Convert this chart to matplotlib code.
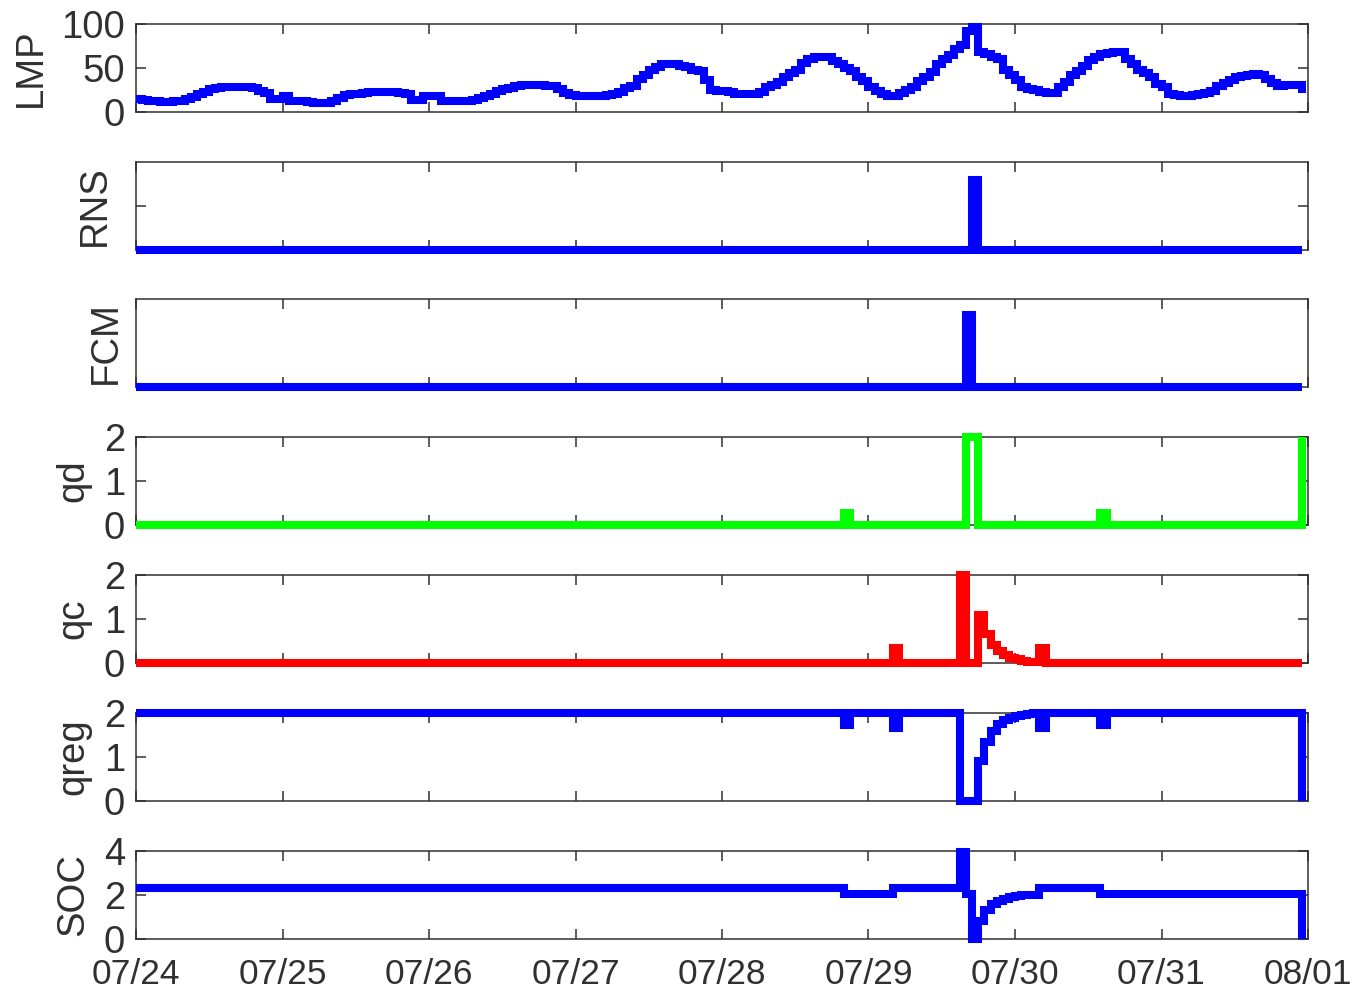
import numpy as np
import matplotlib
matplotlib.use("Agg")
import matplotlib.pyplot as plt

# ---------------- data (hourly, 07/24 00:00 -> 07/31 23:00) ----------------
day_labels = ["07/24", "07/25", "07/26", "07/27", "07/28", "07/29", "07/30", "07/31", "08/01"]

lmp = [
    15, 14, 13, 12, 11, 11, 12, 13, 15, 17, 20, 23, 26, 27, 28, 28, 28, 28, 28, 27, 24, 22, 15, 15,
    18, 13, 12, 12, 11, 10, 10, 10, 13, 16, 19, 20, 21, 22, 23, 23, 23, 23, 23, 22, 20, 14, 14, 18,
    18, 18, 13, 13, 13, 13, 13, 14, 16, 18, 20, 24, 26, 27, 30, 31, 31, 31, 31, 30, 29, 26, 22, 19,
    18, 18, 18, 18, 18, 19, 21, 23, 27, 29, 38, 42, 48, 51, 54, 55, 54, 52, 51, 48, 47, 36, 25, 24,
    24, 23, 21, 20, 20, 21, 23, 28, 31, 34, 40, 44, 48, 56, 60, 63, 63, 62, 58, 54, 50, 47, 40, 35,
    28, 24, 20, 18, 18, 22, 25, 28, 35, 40, 45, 55, 60, 65, 72, 76, 92, 97, 68, 66, 62, 60, 48, 42,
    36, 28, 26, 25, 23, 22, 22, 28, 34, 42, 47, 52, 59, 63, 66, 67, 68, 68, 60, 55, 48, 44, 40, 32,
    28, 20, 19, 18, 18, 19, 20, 22, 24, 30, 33, 36, 40, 41, 42, 43, 42, 38, 33, 30, 31, 31, 31, 22,
]

n_hours = len(lmp)

# sparse series: {hour index: value}, zero elsewhere
rns_events = {137: 1.6}
fcm_events = {136: 0.82}
qd_events = {116: 0.27, 136: 2.0, 137: 2.0, 158: 0.27, 191: 2.0}
qc_events = {124: 0.35, 135: 2.0, 138: 1.1, 139: 0.65, 140: 0.42, 141: 0.28, 142: 0.18,
             143: 0.12, 144: 0.08, 145: 0.05, 146: 0.03, 147: 0.02, 148: 0.35}

qreg_base = 2.0
qreg_events = {116: 1.73, 124: 1.65, 135: 0.0, 136: 0.0, 137: 0.0, 138: 0.92, 139: 1.35,
               140: 1.6, 141: 1.74, 142: 1.83, 143: 1.89, 144: 1.93, 145: 1.96, 146: 1.98,
               148: 1.65, 158: 1.73, 191: 0.0}

# SOC level changes: (start hour, value) held until next change
soc_levels = [(0, 2.3), (116, 2.03), (124, 2.3), (135, 3.95), (136, 2.05), (137, 0.0),
              (138, 0.8), (139, 1.3), (140, 1.58), (141, 1.74), (142, 1.84), (143, 1.9),
              (144, 1.95), (145, 1.98), (148, 2.3), (158, 2.03), (191, 0.0)]


def sparse(events, base=0.0):
    arr = np.full(n_hours, base, dtype=float)
    for k, v in events.items():
        arr[k] = v
    return arr


def held(levels):
    arr = np.zeros(n_hours)
    for i, (start, val) in enumerate(levels):
        end = levels[i + 1][0] if i + 1 < len(levels) else n_hours
        arr[start:end] = val
    return arr


hours = np.arange(n_hours)
series = [
    ("LMP", np.array(lmp, float), "#0000ff", (0, 100), [0, 50, 100], True),
    ("RNS", sparse(rns_events), "#0000ff", (0, 2), [1], False),
    ("FCM", sparse(fcm_events), "#0000ff", (0, 1), [], False),
    ("qd", sparse(qd_events), "#00ff00", (0, 2), [0, 1, 2], True),
    ("qc", sparse(qc_events), "#ff0000", (0, 2), [0, 1, 2], True),
    ("qreg", sparse(qreg_events, qreg_base), "#0000ff", (0, 2), [0, 1, 2], True),
    ("SOC", held(soc_levels), "#0000ff", (0, 4), [0, 2, 4], True),
]

# ---------------- figure ----------------
W, H = 1352, 994
plt.rcParams["font.family"] = ["Liberation Sans", "DejaVu Sans"]
fig = plt.figure(figsize=(W / 100, H / 100), dpi=100)

txt = "#303030"
left_px, right_px = 136, 1308
ax_h = 88
tops = [24, 162, 299, 437, 575, 713, 851]
fs = 27.5
fs_x = 25.5

for i, (name, y, color, ylim, yticks, show_labels) in enumerate(series):
    top = tops[i]
    ax = fig.add_axes([left_px / W, 1 - (top + ax_h) / H, (right_px - left_px) / W, ax_h / H])
    ax.step(hours, y, where="post", color=color, lw=5.8, clip_on=False,
            solid_joinstyle="miter", solid_capstyle="butt", zorder=3)
    ax.set_xlim(0, 192)
    ax.set_ylim(*ylim)
    ax.set_xticks(np.arange(0, 193, 24))
    ax.set_yticks(yticks)
    if show_labels:
        ax.set_yticklabels([str(t) for t in yticks])
    else:
        ax.set_yticklabels([])
    if i == len(series) - 1:
        ax.set_xticklabels(day_labels)
    else:
        ax.set_xticklabels([])
    ax.tick_params(direction="in", length=7, width=1.1, top=True, right=True,
                   labelsize=fs, colors=txt, pad=8)
    ax.tick_params(axis="x", pad=14, labelsize=fs_x)
    for sp in ax.spines.values():
        sp.set_color(txt)
        sp.set_linewidth(1.1)
    ax.set_ylabel(name, fontsize=fs, color=txt, labelpad=9)

fig.savefig("out.png", dpi=100)
